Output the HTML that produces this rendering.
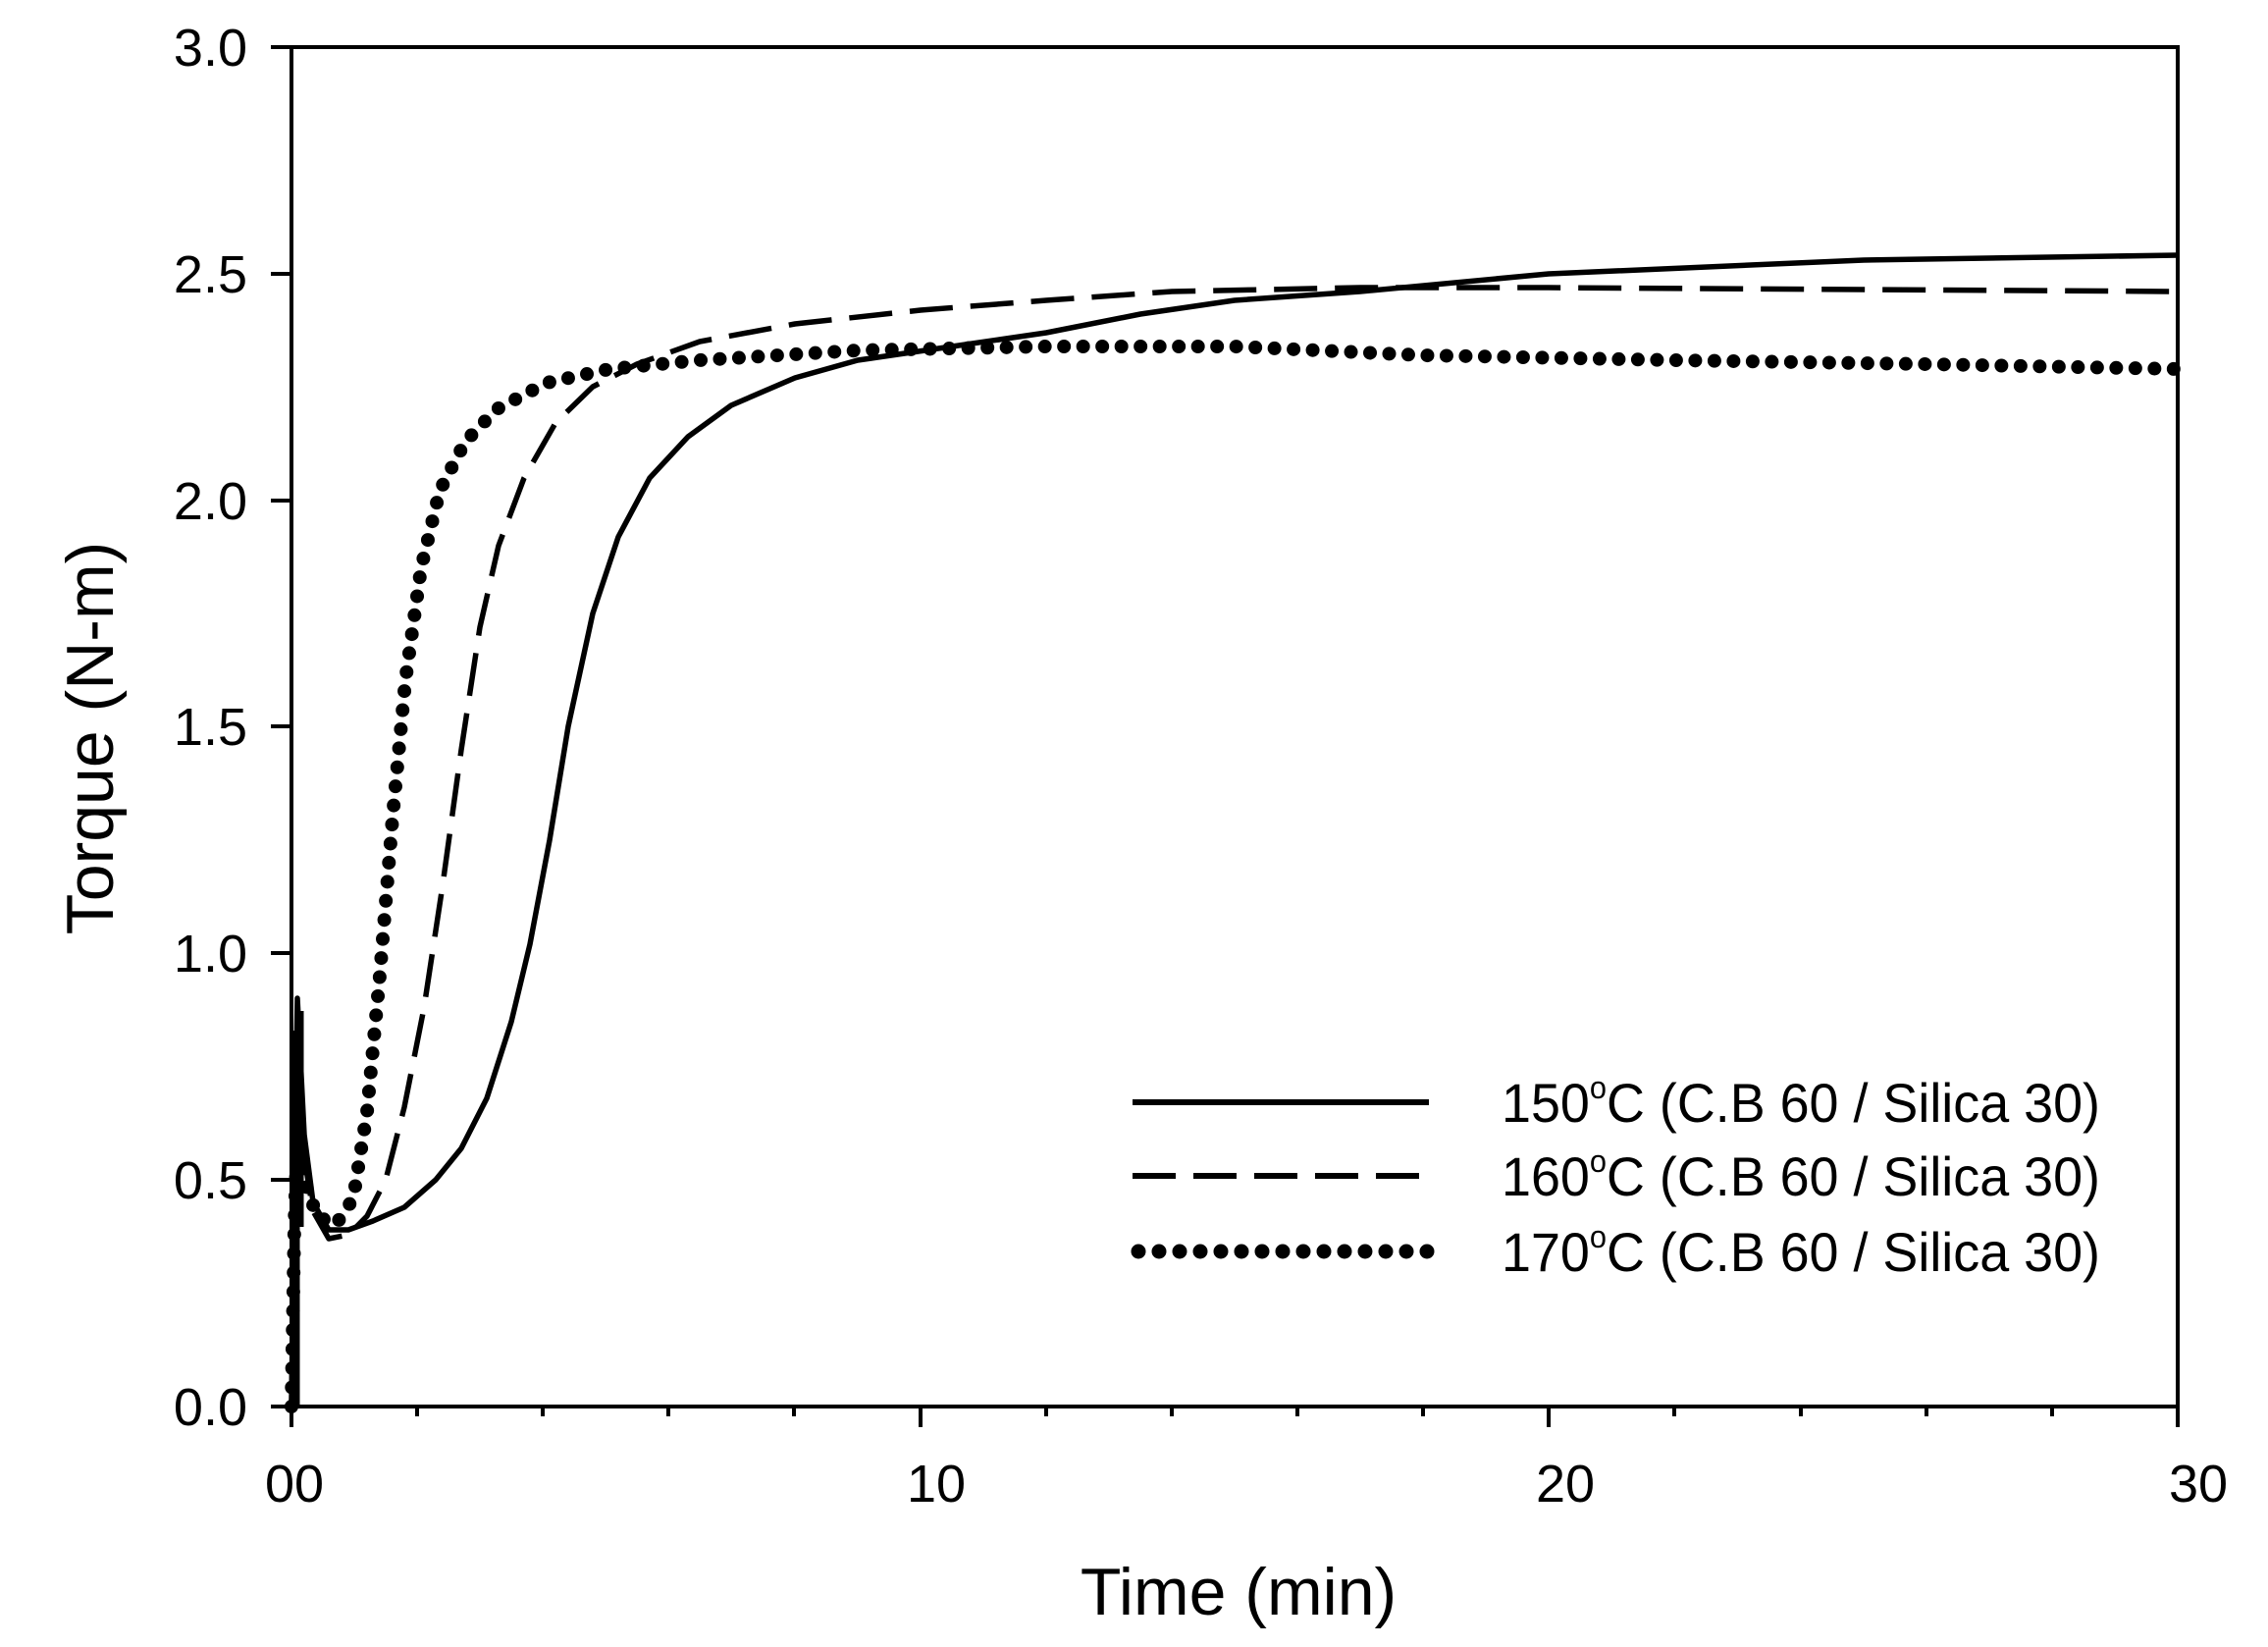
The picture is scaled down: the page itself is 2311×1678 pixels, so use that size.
<!DOCTYPE html>
<html><head><meta charset="utf-8"><style>html,body{margin:0;padding:0;background:#fff}svg{display:block}</style></head>
<body>
<svg width="2311" height="1678" viewBox="0 0 2311 1678" xmlns="http://www.w3.org/2000/svg" font-family="Liberation Sans, Arial, sans-serif">
<rect width="2311" height="1678" fill="#fff"/>
<g stroke="#000" stroke-width="4" fill="none">
<rect x="297" y="48" width="1922" height="1385"/>
<path d="M276 1433H297M276 1202H297M276 971H297M276 740H297M276 510H297M276 279H297M276 48H297"/>
<path d="M297 1433V1454M938 1433V1454M1578 1433V1454M2219 1433V1454"/>
<path d="M425 1433v10M553 1433v10M681 1433v10M809 1433v10M1066 1433v10M1194 1433v10M1322 1433v10M1450 1433v10M1706 1433v10M1835 1433v10M1963 1433v10M2091 1433v10"/>
</g>
<g font-size="54" fill="#000" text-anchor="end">
<text x="252" y="1452">0.0</text><text x="252" y="1221">0.5</text><text x="252" y="990">1.0</text><text x="252" y="759">1.5</text><text x="252" y="529">2.0</text><text x="252" y="298">2.5</text><text x="252" y="67">3.0</text>
</g>
<g font-size="54" fill="#000" text-anchor="middle">
<text x="300" y="1530">00</text><text x="954" y="1530">10</text><text x="1595" y="1530">20</text><text x="2240" y="1530">30</text>
</g>
<text x="1262" y="1645" font-size="68" text-anchor="middle">Time (min)</text>
<text transform="translate(115,752) rotate(-90)" font-size="68" text-anchor="middle">Torque (N-m)</text>
<g fill="none" stroke="#000" stroke-linejoin="round">
<polyline stroke-width="5.5" points="297,1433 300,1202 303,1017 310,1156 319,1225 335,1253 355,1253 380,1244 412,1230 444,1202 470,1170 496,1119 521,1041 540,962 560,856 579,740 604,625 630,547 662,487 701,445 745,413 810,385 874,367 970,353 1066,339 1162,320 1258,306 1386,297 1578,279 1899,265 2219,260"/>
<polyline stroke-width="5.5" stroke-dasharray="44 18" points="297,1433 300,1225 303,1087 310,1179 319,1234 335,1262 355,1258 374,1239 393,1202 412,1128 432,1027 451,902 470,764 489,639 508,556 534,487 566,431 604,394 649,371 713,348 810,330 938,316 1066,306 1194,297 1386,293 1578,293 2219,297"/>
<polyline stroke-width="14" stroke-linecap="round" stroke-dasharray="0 19.5" points="297,1433 300,1248 303,1156 310,1202 323,1239 342,1248 360,1221 374,1133 387,994 400,833 413,694 429,579 448,500 474,450 506,417 557,390 621,376 713,367 874,357 1066,353 1258,353 1450,362 1706,367 1963,371 2219,376"/>
<path stroke-width="9" d="M301 1433V1050M305 1250V1030"/>
</g>
<g stroke="#000" fill="none">
<line x1="1154" y1="1123" x2="1456" y2="1123" stroke-width="6"/>
<line x1="1154" y1="1198" x2="1456" y2="1198" stroke-width="6" stroke-dasharray="44 18"/>
<line x1="1160" y1="1275" x2="1456" y2="1275" stroke-width="15" stroke-linecap="round" stroke-dasharray="0 21"/>
</g>
<g font-size="56" fill="#000">
<text x="1530" y="1143" textLength="610" lengthAdjust="spacingAndGlyphs">150<tspan font-size="32" dy="-24">o</tspan><tspan dy="24">C (C.B 60 / Silica 30)</tspan></text>
<text x="1530" y="1218" textLength="610" lengthAdjust="spacingAndGlyphs">160<tspan font-size="32" dy="-24">o</tspan><tspan dy="24">C (C.B 60 / Silica 30)</tspan></text>
<text x="1530" y="1295" textLength="610" lengthAdjust="spacingAndGlyphs">170<tspan font-size="32" dy="-24">o</tspan><tspan dy="24">C (C.B 60 / Silica 30)</tspan></text>
</g>
</svg>
</body></html>
